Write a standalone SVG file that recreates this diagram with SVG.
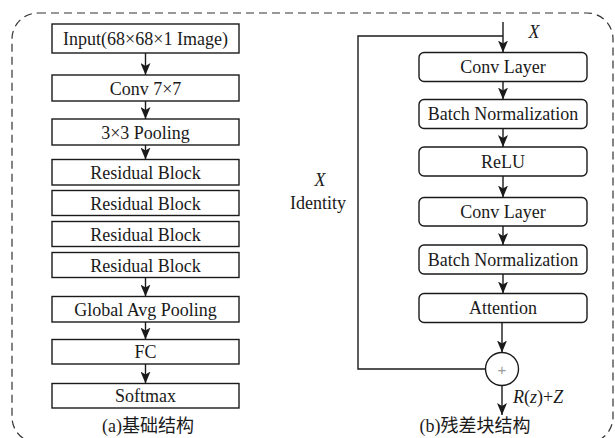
<svg xmlns="http://www.w3.org/2000/svg" width="615" height="438" viewBox="0 0 615 438">
<style>
.box{fill:#fff;stroke:#1a1a1a;stroke-width:1.4}
.t{font-family:"Liberation Serif","Times New Roman",serif;font-size:18px;fill:#1a1a1a;text-anchor:middle}
.s{font-family:"Liberation Serif","Times New Roman",serif;font-size:18px;fill:#1a1a1a;text-anchor:start}
.i{font-style:italic}
.ln{fill:none;stroke:#1a1a1a;stroke-width:1.4}
.cap{font-family:"Liberation Serif","Noto Sans CJK SC",serif;font-size:18px;fill:#1a1a1a;text-anchor:middle}
</style>
<defs>
<marker id="ah" markerUnits="userSpaceOnUse" markerWidth="12" markerHeight="10" refX="12" refY="5" orient="auto">
<path d="M0,0 L12,5 L0,10 L3,5 z" fill="#1a1a1a"/>
</marker>
</defs>
<rect x="12" y="13" width="601" height="430" rx="26" fill="none" stroke="#333" stroke-width="1.2" stroke-dasharray="8,5"/>
<g id="a-input"><rect class="box" x="52" y="24" width="187" height="29"/><text class="t" x="145.5" y="45">Input(68×68×1 Image)</text></g>
<g id="a-conv"><rect class="box" x="52" y="75" width="187" height="26"/><text class="t" x="145.5" y="94.5">Conv 7×7</text></g>
<g id="a-pool"><rect class="box" x="52" y="119" width="187" height="26"/><text class="t" x="145.5" y="138.5">3×3 Pooling</text></g>
<g id="a-res1"><rect class="box" x="52" y="159.5" width="187" height="25.5"/><text class="t" x="145.5" y="178.5">Residual Block</text></g>
<g id="a-res2"><rect class="box" x="52" y="190.5" width="187" height="25"/><text class="t" x="145.5" y="209.5">Residual Block</text></g>
<g id="a-res3"><rect class="box" x="52" y="221.5" width="187" height="25"/><text class="t" x="145.5" y="240.5">Residual Block</text></g>
<g id="a-res4"><rect class="box" x="52" y="252.5" width="187" height="25"/><text class="t" x="145.5" y="271.5">Residual Block</text></g>
<g id="a-gap"><rect class="box" x="52" y="296.5" width="187" height="25.5"/><text class="t" x="145.5" y="315.5">Global Avg Pooling</text></g>
<g id="a-fc"><rect class="box" x="52" y="339.5" width="187" height="24.5"/><text class="t" x="145.5" y="358">FC</text></g>
<g id="a-softmax"><rect class="box" x="52" y="383.5" width="187" height="24.5"/><text class="t" x="145.5" y="402">Softmax</text></g>
<g id="b-conv1"><rect class="box" x="419" y="52.5" width="168" height="29" rx="5"/><text class="t" x="503" y="73">Conv Layer</text></g>
<g id="b-bn1"><rect class="box" x="419" y="99.5" width="168" height="29" rx="5"/><text class="t" x="503" y="120">Batch Normalization</text></g>
<g id="b-relu"><rect class="box" x="419" y="147" width="168" height="29" rx="5"/><text class="t" x="503" y="167.5">ReLU</text></g>
<g id="b-conv2"><rect class="box" x="419" y="197.5" width="168" height="28.5" rx="5"/><text class="t" x="503" y="218">Conv Layer</text></g>
<g id="b-bn2"><rect class="box" x="419" y="245" width="168" height="29" rx="5"/><text class="t" x="503" y="265.5">Batch Normalization</text></g>
<g id="b-att"><rect class="box" x="419" y="293.5" width="168" height="29" rx="5"/><text class="t" x="503" y="314">Attention</text></g>
<g id="b-sum"><circle class="box" cx="502" cy="369" r="16.5"/><text x="502" y="374.5" font-family="Liberation Sans,sans-serif" font-size="15" fill="#999" text-anchor="middle">+</text></g>
<g id="connectors">
<line class="ln" x1="145.5" y1="53" x2="145.5" y2="75" marker-end="url(#ah)"/>
<line class="ln" x1="145.5" y1="101" x2="145.5" y2="119" marker-end="url(#ah)"/>
<line class="ln" x1="145.5" y1="145" x2="145.5" y2="159.5" marker-end="url(#ah)"/>
<line class="ln" x1="145.5" y1="277.5" x2="145.5" y2="296.5" marker-end="url(#ah)"/>
<line class="ln" x1="145.5" y1="322" x2="145.5" y2="339.5" marker-end="url(#ah)"/>
<line class="ln" x1="145.5" y1="364" x2="145.5" y2="383.5" marker-end="url(#ah)"/>
<line class="ln" x1="503" y1="22" x2="503" y2="52.5" marker-end="url(#ah)"/>
<polyline class="ln" points="503,36 358,36 358,369 485.5,369"/>
<line class="ln" x1="503" y1="81.5" x2="503" y2="99.5" marker-end="url(#ah)"/>
<line class="ln" x1="503" y1="128.5" x2="503" y2="147" marker-end="url(#ah)"/>
<line class="ln" x1="503" y1="176" x2="503" y2="197.5" marker-end="url(#ah)"/>
<line class="ln" x1="503" y1="226" x2="503" y2="245" marker-end="url(#ah)"/>
<line class="ln" x1="503" y1="274" x2="503" y2="293.5" marker-end="url(#ah)"/>
<line class="ln" x1="502" y1="322.5" x2="502" y2="352.5" marker-end="url(#ah)"/>
<line class="ln" x1="502" y1="385.5" x2="502" y2="415" marker-end="url(#ah)"/>
</g>
<text class="t i" x="534" y="38">X</text>
<text class="t i" x="320" y="186">X</text>
<text class="t" x="318" y="209">Identity</text>
<text class="s" x="513" y="403"><tspan font-style="italic">R</tspan>(<tspan font-style="italic">z</tspan>)+<tspan font-style="italic">Z</tspan></text>
<text class="cap" x="148" y="432">(a)基础结构</text>
<text class="cap" x="475" y="432">(b)残差块结构</text>
</svg>
